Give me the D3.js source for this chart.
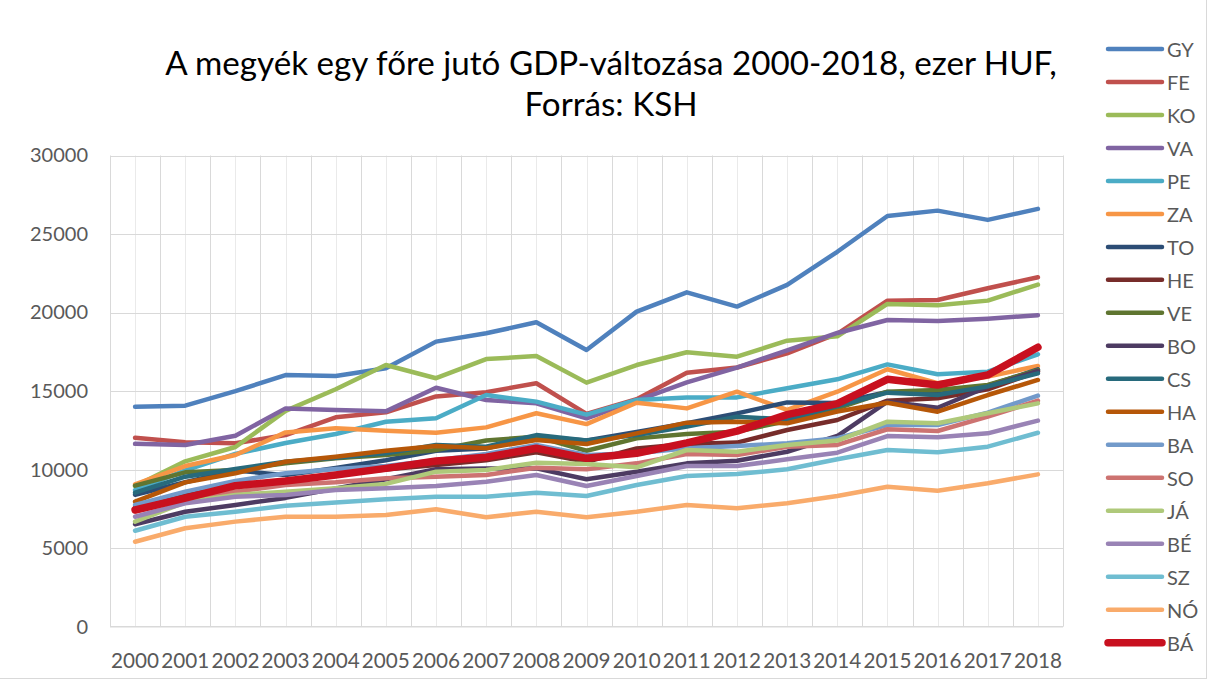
<!DOCTYPE html>
<html>
<head>
<meta charset="utf-8">
<script src="https://cdn.jsdelivr.net/npm/d3@7/dist/d3.min.js"></script>
<style>
  html, body { margin: 0; padding: 0; background: #fff; }
  svg { display: block; font-family: Lato, "Open Sans", "Liberation Sans", sans-serif; }
</style>
</head>
<body>
<svg id="chart" width="1209" height="682"></svg>
<script>
// Years on the category axis
const years = ["2000","2001","2002","2003","2004","2005","2006","2007","2008","2009",
               "2010","2011","2012","2013","2014","2015","2016","2017","2018"];

// Per-capita GDP by county, thousand HUF
const GY = [14000,14070,15000,16020,15960,16450,18150,18680,19380,17620,20060,21290,20380,21760,23870,26150,26490,25900,26600];
const FE = [12030,11740,11680,12200,13330,13650,14660,14930,15500,13550,14480,16170,16500,17400,18650,20760,20800,21550,22250];
const KO = [8950,10530,11440,13740,15120,16660,15820,17040,17230,15540,16660,17470,17190,18210,18490,20550,20460,20760,21780];
const VA = [11640,11570,12160,13900,13800,13710,15210,14430,14220,13270,14400,15550,16500,17600,18700,19530,19460,19610,19830];
const PE = [8700,9950,11000,11700,12270,13050,13270,14750,14330,13500,14440,14600,14600,15180,15750,16700,16070,16240,17340];
const ZA = [9070,10230,10930,12370,12630,12480,12350,12690,13590,12900,14260,13900,14960,13800,14960,16390,15500,15920,16600];
const TO = [8400,9200,9950,9650,10100,10600,11200,11350,12100,11850,12400,12950,13580,14280,14250,14950,14800,15350,16380];
const HE = [7600,8400,8900,9300,9700,10000,10300,10600,11100,10500,11350,11630,11720,12520,13160,14390,14540,15110,16240];
const VE = [8980,9830,9980,10400,10720,10930,11250,11850,12100,11200,11990,12270,12420,13100,13900,14960,15070,15390,16340];
const BO = [6520,7320,7750,8200,8800,9390,10020,10080,10080,9390,9870,10400,10570,11140,12140,14330,13940,15280,16280];
const CS = [8530,9550,10040,10500,10760,11040,11570,11460,12200,11850,12200,12740,13370,13200,14050,14900,14750,15300,16130];
const HA = [7960,9190,9770,10500,10820,11200,11500,11360,11890,11630,12310,12990,13050,12950,13700,14260,13690,14750,15710];
const BA = [7750,8600,9280,9770,10040,10230,10600,11000,11570,10930,11040,11360,11500,11680,12000,12840,12840,13630,14710];
const SO = [7350,8100,8600,9020,9190,9450,9550,9660,10120,10020,10400,11000,10930,11460,11570,12570,12460,13370,14390];
const JA = [6690,7920,8390,8600,8810,9090,9870,9980,10440,10360,10150,11250,11140,11570,11850,13050,12950,13590,14220];
const BE = [7000,7860,8280,8390,8700,8810,8960,9230,9660,8960,9590,10230,10230,10660,11080,12140,12060,12310,13120];
const SZ = [6110,7000,7320,7700,7900,8110,8280,8280,8530,8320,9020,9590,9720,10020,10660,11250,11100,11460,12350];
const NO = [5410,6270,6690,7000,7000,7110,7480,6970,7320,6970,7320,7750,7540,7860,8320,8910,8660,9130,9700];
const BAZ = [7430,8180,8980,9280,9660,10080,10550,10790,11360,10720,11040,11700,12450,13500,14200,15750,15390,16030,17790];

// Series order (drawing and legend order) with their labels
const seriesNames = ["GY","FE","KO","VA","PE","ZA","TO","HE","VE","BO","CS","HA","BA","SO","JÁ","BÉ","SZ","NÓ","BÁ"];
const seriesValues = [GY,FE,KO,VA,PE,ZA,TO,HE,VE,BO,CS,HA,BA,SO,JA,BE,SZ,NO,BAZ];
const seriesColors = ["#4F81BD","#C0504D","#9BBB59","#8064A2","#4BACC6","#F79646","#2C4D75","#772C2A",
                      "#5F7530","#4D3B62","#276A7C","#B65708","#729ACA","#CD7371","#AFC97A","#9983B5",
                      "#6FBDD1","#F9AB6B","#C8101F"];

// Value axis ticks
const yTicks = [0,5000,10000,15000,20000,25000,30000];

const titleLines = ["A megyék egy főre jutó GDP-változása 2000-2018, ezer HUF,", "Forrás: KSH"];

const svg = d3.select("#chart");
const plot = { left: 110, right: 1063, top: 155.5, bottom: 626.7 };

const x = d3.scaleBand().domain(years).range([plot.left, plot.right]).paddingInner(0).paddingOuter(0);
const xc = d => x(d) + x.bandwidth() / 2;
const y = d3.scaleLinear().domain([0, 30000]).range([plot.bottom, plot.top]);

// Fit a text element's font size to a target width
function fitWidth(sel, target) {
  const node = sel.node();
  const fs = parseFloat(sel.attr("font-size"));
  const w = node.getComputedTextLength();
  sel.attr("font-size", (fs * target / w).toFixed(2));
}

// Outer chart frame
svg.append("rect")
  .attr("x", -1).attr("y", -1).attr("width", 1207.5).attr("height", 679.5)
  .attr("fill", "none").attr("stroke", "#D9D9D9").attr("stroke-width", 1);

// Gridlines
const grid = svg.append("g");
grid.selectAll("line.minor").data(years).join("line")
  .attr("class", "minor")
  .attr("x1", d => Math.round(xc(d)) + 0.5).attr("x2", d => Math.round(xc(d)) + 0.5)
  .attr("y1", plot.top).attr("y2", plot.bottom)
  .attr("stroke", "#EAEAEA").attr("stroke-width", 1);
const bounds = years.map(d => x(d)).concat([plot.right]);
grid.selectAll("line.major").data(bounds).join("line")
  .attr("class", "major")
  .attr("x1", d => Math.round(d) + 0.5).attr("x2", d => Math.round(d) + 0.5)
  .attr("y1", plot.top).attr("y2", plot.bottom)
  .attr("stroke", "#D9D9D9").attr("stroke-width", 1);
grid.selectAll("line.h").data(yTicks.filter(t => t > 0)).join("line")
  .attr("class", "h")
  .attr("x1", plot.left).attr("x2", plot.right)
  .attr("y1", d => Math.round(y(d)) + 0.5).attr("y2", d => Math.round(y(d)) + 0.5)
  .attr("stroke", "#D9D9D9").attr("stroke-width", 1);

// Category axis baseline
svg.append("line")
  .attr("x1", plot.left).attr("x2", plot.right)
  .attr("y1", plot.bottom).attr("y2", plot.bottom)
  .attr("stroke", "#D9D9D9").attr("stroke-width", 1.5);

// Y axis labels
const yAxis = svg.append("g")
  .attr("transform", `translate(${plot.left - 22},0)`)
  .call(d3.axisLeft(y).tickValues(yTicks).tickSize(0).tickPadding(0).tickFormat(d3.format("d")));
yAxis.select(".domain").remove();
yAxis.selectAll("text")
  .attr("font-family", "Lato, 'Open Sans', sans-serif")
  .attr("font-size", 20).attr("fill", "#595959");
{
  const t = yAxis.selectAll("text").filter(d => d === 30000);
  const w = t.node().getComputedTextLength();
  const fs = 20 * 58 / w;
  yAxis.selectAll("text").attr("font-size", fs.toFixed(2));
}

// X axis labels
const xAxis = svg.append("g")
  .attr("transform", `translate(0,${plot.bottom})`)
  .call(d3.axisBottom(x).tickSize(0).tickPadding(0));
xAxis.select(".domain").remove();
xAxis.selectAll("text")
  .attr("font-family", "Lato, 'Open Sans', sans-serif")
  .attr("font-size", 20).attr("fill", "#595959")
  .attr("dy", null).attr("y", 33).attr("dominant-baseline", "central");
{
  const t = xAxis.select("text");
  const w = t.node().getComputedTextLength();
  xAxis.selectAll("text").attr("font-size", (20 * 48 / w).toFixed(2));
}

// Series lines
const line = d3.line().x((d, i) => xc(years[i])).y(d => y(d));
svg.append("g").selectAll("path").data(seriesValues).join("path")
  .attr("d", d => line(d))
  .attr("fill", "none")
  .attr("stroke", (d, i) => seriesColors[i])
  .attr("stroke-width", (d, i) => seriesNames[i] === "BÁ" ? 7.5 : 4.5)
  .attr("stroke-linejoin", "round")
  .attr("stroke-linecap", "round");

// Title
const title = svg.append("g").attr("fill", "#000");
const t1 = title.append("text")
  .attr("x", 611).attr("y", 62).attr("text-anchor", "middle").attr("dominant-baseline", "central")
  .attr("font-size", 28).text(titleLines[0]);
fitWidth(t1, 892);
title.append("text")
  .attr("x", 611).attr("y", 103).attr("text-anchor", "middle").attr("dominant-baseline", "central")
  .attr("font-size", t1.attr("font-size")).text(titleLines[1]);

// Legend
const legend = svg.append("g");
const items = legend.selectAll("g").data(seriesNames).join("g")
  .attr("transform", (d, i) => `translate(0,${49 + i * 32.98})`);
items.append("line")
  .attr("x1", 1108).attr("x2", 1162).attr("y1", 0).attr("y2", 0)
  .attr("stroke", (d, i) => seriesColors[i])
  .attr("stroke-width", d => d === "BÁ" ? 7.5 : 4.5)
  .attr("stroke-linecap", "round");
items.append("text")
  .attr("x", 1167).attr("y", 0).attr("dominant-baseline", "central")
  .attr("font-size", yAxis.select("text").attr("font-size"))
  .attr("fill", "#595959")
  .text(d => d);
</script>
</body>
</html>
